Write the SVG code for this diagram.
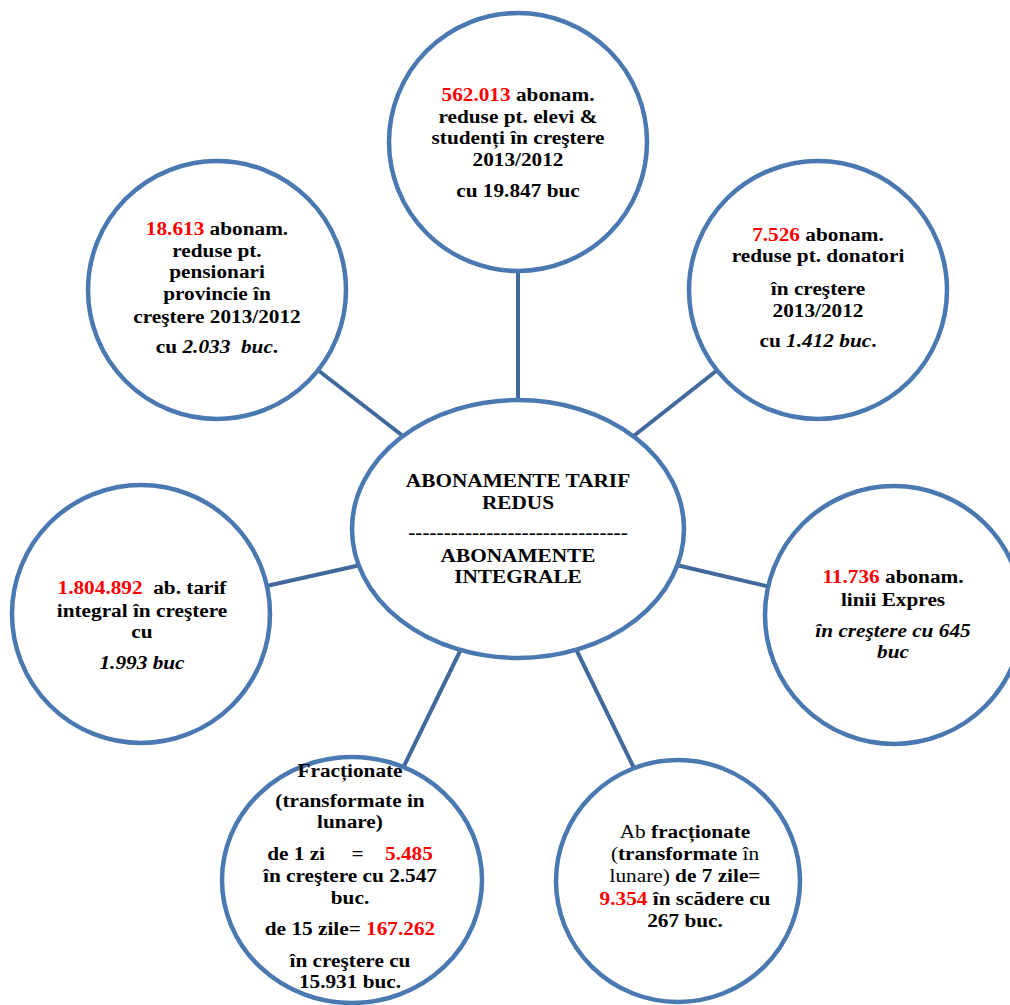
<svg xmlns="http://www.w3.org/2000/svg" width="1010" height="1005" viewBox="0 0 1010 1005">
<style>
.c{fill:#fff;stroke:#4a78b0;stroke-width:4.5}
.l{stroke:#41699b;stroke-width:4;fill:none}
text{font-family:"Liberation Serif","Times New Roman",serif;font-size:19px;font-weight:bold;fill:#000;text-anchor:middle}
.r{fill:#ff0000}
.i{font-style:italic}
.n{font-weight:normal}
</style>
<rect width="1010" height="1005" fill="#fff"/>
<g id="connectors">
<line class="l" x1="518" y1="260" x2="518" y2="410"/>
<line class="l" x1="310" y1="364" x2="412" y2="443"/>
<line class="l" x1="725" y1="364" x2="626" y2="442"/>
<line class="l" x1="262" y1="587" x2="365" y2="564"/>
<line class="l" x1="672" y1="564" x2="775" y2="588"/>
<line class="l" x1="464" y1="643" x2="404" y2="766"/>
<line class="l" x1="573" y1="643" x2="634" y2="768"/>
</g>
<g id="center">
<ellipse class="c" cx="518" cy="529" rx="166" ry="129"/>
<g transform="translate(518 0) scale(1.12 1)">
<text x="0" y="487">ABONAMENTE TARIF</text>
<text x="0" y="509">REDUS</text>
<text x="0" y="539">-------------------------------</text>
<text x="0" y="562">ABONAMENTE</text>
<text x="0" y="583">INTEGRALE</text>
</g>
</g>
<g id="top">
<circle class="c" cx="518" cy="142" r="129"/>
<g transform="translate(518 0) scale(1.12 1)">
<text x="0" y="101"><tspan class="r">562.013</tspan> abonam.</text>
<text x="0" y="123">reduse pt. elevi &amp;</text>
<text x="0" y="144">studenți în creştere</text>
<text x="0" y="166">2013/2012</text>
<text x="0" y="197">cu 19.847 buc</text>
</g>
</g>
<g id="topleft">
<circle class="c" cx="217" cy="290" r="129"/>
<g transform="translate(217 0) scale(1.12 1)">
<text x="0" y="235"><tspan class="r">18.613</tspan> abonam.</text>
<text x="0" y="257">reduse pt.</text>
<text x="0" y="278">pensionari</text>
<text x="0" y="300">provincie în</text>
<text x="0" y="323">creştere 2013/2012</text>
<text x="0" y="353" xml:space="preserve">cu <tspan class="i">2.033  buc</tspan>.</text>
</g>
</g>
<g id="topright">
<circle class="c" cx="818" cy="290" r="129"/>
<g transform="translate(818 0) scale(1.12 1)">
<text x="0" y="241"><tspan class="r">7.526</tspan> abonam.</text>
<text x="0" y="262">reduse pt. donatori</text>
<text x="0" y="295">în creştere</text>
<text x="0" y="317">2013/2012</text>
<text x="0" y="347">cu <tspan class="i">1.412 buc</tspan>.</text>
</g>
</g>
<g id="left">
<circle class="c" cx="141" cy="614" r="129"/>
<g transform="translate(142 0) scale(1.12 1)">
<text x="0" y="594" xml:space="preserve"><tspan class="r">1.804.892</tspan>  ab. tarif</text>
<text x="0" y="617">integral în creştere</text>
<text x="0" y="638">cu</text>
<text x="0" y="669" class="i">1.993 buc</text>
</g>
</g>
<g id="right">
<circle class="c" cx="894" cy="615" r="129"/>
<g transform="translate(893 0) scale(1.12 1)">
<text x="0" y="583"><tspan class="r">11.736</tspan> abonam.</text>
<text x="0" y="606">linii Expres</text>
<text x="0" y="637" class="i">în creştere cu 645</text>
<text x="0" y="658" class="i">buc</text>
</g>
</g>
<g id="bottomleft">
<ellipse class="c" cx="352" cy="880" rx="130" ry="123"/>
<g transform="translate(350 0) scale(1.12 1)">
<text x="0" y="777">Fracționate</text>
<text x="0" y="807">(transformate in</text>
<text x="0" y="828">lunare)</text>
<text x="0" y="860" xml:space="preserve">de 1 zi     =    <tspan class="r">5.485</tspan></text>
<text x="0" y="882">în creştere cu 2.547</text>
<text x="0" y="904">buc.</text>
<text x="0" y="935">de 15 zile= <tspan class="r">167.262</tspan></text>
<text x="0" y="967">în creştere cu</text>
<text x="0" y="988">15.931 buc.</text>
</g>
</g>
<g id="bottomright">
<ellipse class="c" cx="678" cy="881" rx="122" ry="121"/>
<g transform="translate(685 0) scale(1.12 1)">
<text x="0" y="838"><tspan class="n">Ab</tspan> fracționate</text>
<text x="0" y="860"><tspan class="n">(</tspan>transformate <tspan class="n">în</tspan></text>
<text x="0" y="882"><tspan class="n">lunare)</tspan> de 7 zile=</text>
<text x="0" y="905"><tspan class="r">9.354</tspan> în scădere cu</text>
<text x="0" y="927">267 buc.</text>
</g>
</g>
</svg>
